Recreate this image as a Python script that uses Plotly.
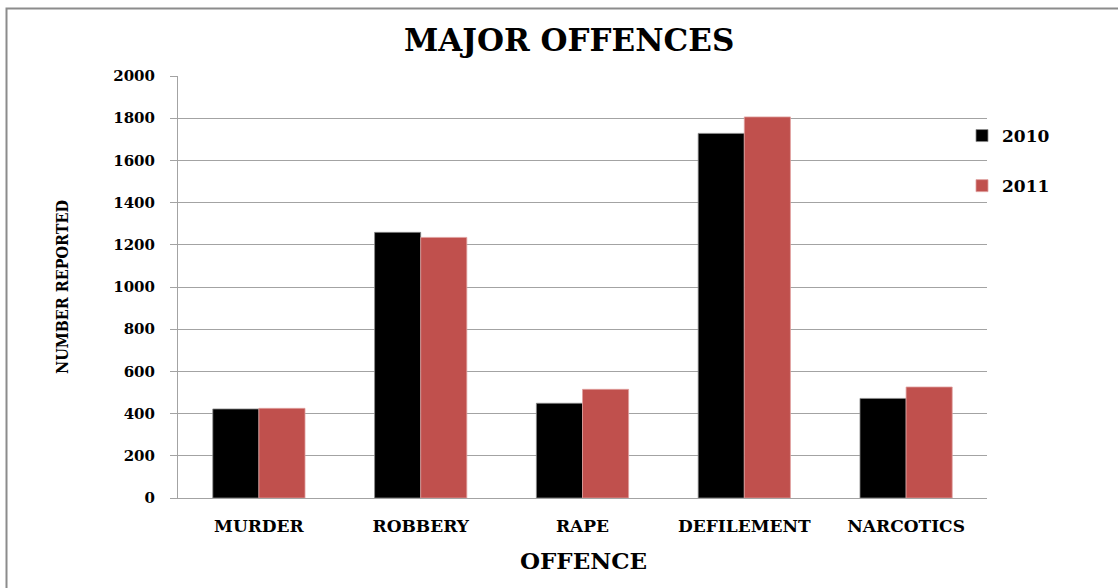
import plotly.graph_objects as go

# Reported cases of major offences by year
offences = ["MURDER", "ROBBERY", "RAPE", "DEFILEMENT", "NARCOTICS"]
reported_2010 = [422, 1259, 449, 1728, 472]
reported_2011 = [425, 1235, 515, 1806, 526]
years = ["2010", "2011"]
y_ticks = [0, 200, 400, 600, 800, 1000, 1200, 1400, 1600, 1800, 2000]

W, H = 1118, 588
L, R, T, B = 178, 131, 76, 90
pw, ph = W - L - R, H - T - B


def px_x(x):
    return (x - L) / pw


def px_y(y):
    return (H - B - y) / ph


SERIF = "DejaVu Serif"
GRID = "#a3a3a3"

fig = go.Figure()
fig.add_trace(go.Bar(
    x=offences, y=reported_2010, name=years[0], legendgroup="a",
    marker=dict(color="#000000", line=dict(color="#8a8a8a", width=0.8)),
))
fig.add_trace(go.Bar(
    x=offences, y=reported_2011, name=years[1], legendgroup="b",
    marker=dict(color="#C0504D", line=dict(color="#e0a09e", width=0.8)),
))

fig.update_layout(
    width=W, height=H,
    margin=dict(l=L, r=R, t=T, b=B, pad=0),
    paper_bgcolor="white", plot_bgcolor="white",
    barmode="group", bargap=0.43, bargroupgap=0,
    font=dict(family=SERIF, color="#000000"),
    showlegend=True,
    legend=dict(
        x=px_x(962), y=px_y(118), xanchor="left", yanchor="top",
        font=dict(family=SERIF, size=17, weight="bold"),
        tracegroupgap=25, bgcolor="rgba(0,0,0,0)",
    ),
    xaxis=dict(
        showline=True, linecolor=GRID, linewidth=1,
        showgrid=False, ticks="", ticklabelstandoff=13,
        tickfont=dict(family=SERIF, size=17, weight="bold"),
        fixedrange=True,
    ),
    yaxis=dict(
        range=[0, 2000], tickvals=y_ticks,
        showline=True, linecolor=GRID, linewidth=1,
        showgrid=True, gridcolor=GRID, gridwidth=1,
        ticks="outside", ticklen=7, tickcolor=GRID,
        ticklabelstandoff=12,
        tickfont=dict(family=SERIF, size=15, weight="bold"),
        zeroline=False, fixedrange=True,
    ),
)

# chart title and axis titles
fig.add_annotation(
    text="MAJOR OFFENCES", xref="paper", yref="paper",
    x=px_x(569), y=px_y(40), xanchor="center", yanchor="middle",
    showarrow=False, font=dict(family=SERIF, size=31, weight="bold"),
)
fig.add_annotation(
    text="NUMBER REPORTED", xref="paper", yref="paper",
    x=px_x(62), y=px_y(287), xanchor="center", yanchor="middle",
    textangle=-90, showarrow=False,
    font=dict(family="DejaVu Serif Condensed, DejaVu Serif", size=16, weight="bold"),
)
fig.add_annotation(
    text="OFFENCE", xref="paper", yref="paper",
    x=px_x(583), y=px_y(560), xanchor="center", yanchor="middle",
    showarrow=False, font=dict(family=SERIF, size=23, weight="bold"),
)

# outer frame of the chart area
fig.add_shape(
    type="rect", xref="paper", yref="paper",
    x0=px_x(6.5), x1=px_x(1140), y0=px_y(610), y1=px_y(8.5),
    line=dict(color="#8c8c8c", width=2), fillcolor="rgba(0,0,0,0)", layer="below",
)

fig.write_html("out.html")
